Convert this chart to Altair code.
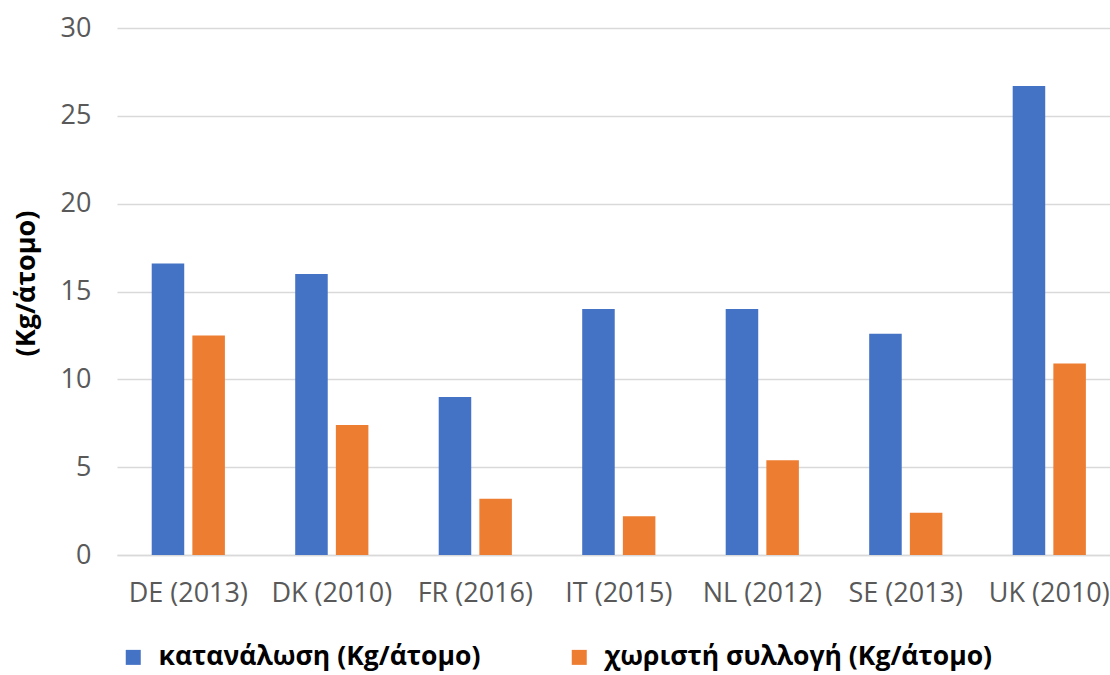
import altair as alt
import pandas as pd

# Per-country figures (kg per person)
countries = ["DE (2013)", "DK (2010)", "FR (2016)", "IT (2015)", "NL (2012)", "SE (2013)", "UK (2010)"]
consumption = [16.6, 16.0, 9.0, 14.0, 14.0, 12.6, 26.7]
separate_collection = [12.5, 7.4, 3.2, 2.2, 5.4, 2.4, 10.9]
series_names = ["κατανάλωση (Kg/άτομο)", "χωριστή συλλογή (Kg/άτομο)"]
series_colors = ["#4472C4", "#ED7D31"]

rows = []
for c, a, b in zip(countries, consumption, separate_collection):
    rows.append({"country": c, "series": series_names[0], "value": a})
    rows.append({"country": c, "series": series_names[1], "value": b})
df = pd.DataFrame(rows)

FONT = "Open Sans"

chart = (
    alt.Chart(df)
    .mark_bar()
    .encode(
        x=alt.X(
            "country:N",
            sort=countries,
            title=None,
            scale=alt.Scale(paddingInner=0.49, paddingOuter=0.205, align=0.59),
            axis=alt.Axis(
                labelAngle=0,
                labelFont=FONT,
                labelFontSize=27,
                labelColor="#595959",
                labelPadding=25,
                ticks=False,
                grid=False,
                domainColor="#d9d9d9",
                domainWidth=1.5,
            ),
        ),
        xOffset=alt.XOffset(
            "series:N",
            sort=series_names,
            scale=alt.Scale(paddingInner=0.2, paddingOuter=0),
        ),
        y=alt.Y(
            "value:Q",
            title="(Kg/άτομο)",
            scale=alt.Scale(domain=[0, 30], nice=False),
            axis=alt.Axis(
                values=[0, 5, 10, 15, 20, 25, 30],
                labelFont=FONT,
                labelFontSize=27,
                labelColor="#595959",
                labelPadding=26,
                ticks=False,
                domain=False,
                gridColor="#d9d9d9",
                gridWidth=1.5,
                titleFont=FONT,
                titleFontSize=27,
                titleFontWeight="bold",
                titleColor="#000000",
                titleAngle=270,
                titleBaseline="middle",
                titleAlign="center",
                titleX=-91,
                titleY=255,
            ),
        ),
        color=alt.Color(
            "series:N",
            sort=series_names,
            scale=alt.Scale(domain=series_names, range=series_colors),
            legend=alt.Legend(
                title=None,
                orient="none",
                direction="horizontal",
                legendX=3,
                legendY=616,
                symbolType="square",
                symbolSize=225,
                symbolStrokeWidth=0,
                labelFont=FONT,
                labelFontSize=26.5,
                labelFontWeight="bold",
                labelColor="#000000",
                labelOffset=12,
                labelLimit=700,
                columnPadding=85,
            ),
        ),
    )
    .properties(
        width=993,
        height=527,
        background="#ffffff",
        autosize=alt.AutoSizeParams(type="none"),
        padding={"left": 117, "top": 28, "right": 0, "bottom": 120},
    )
    .configure_view(strokeWidth=0, stroke="transparent")
)

chart.save("out.html", embed_options={"renderer": "svg", "actions": False})
